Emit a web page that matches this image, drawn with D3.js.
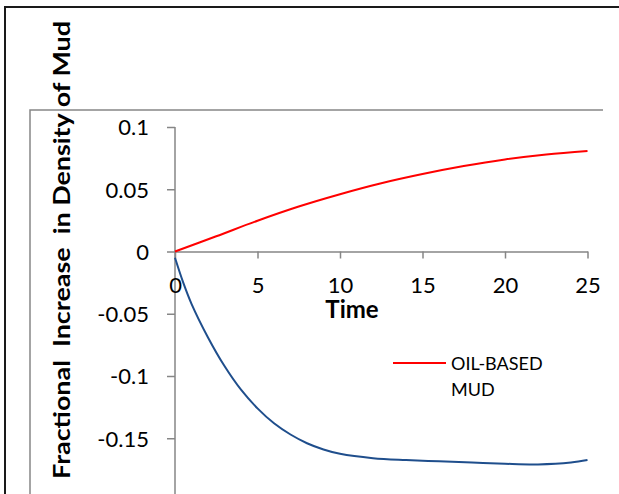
<!DOCTYPE html>
<html>
<head>
<meta charset="utf-8">
<script src="https://cdn.jsdelivr.net/npm/d3@7"></script>
<style>
  body { margin: 0; background: #fff; }
  svg { display: block; font-family: Lato, "Open Sans", sans-serif; }
</style>
</head>
<body>
<svg id="svg" width="619" height="494"></svg>
<script>
// values
const oilTime = [0, 2.5, 5, 7.5, 10, 12.5, 15, 17.5, 20, 22.5, 25];
const oilValue = [0, 0.0122, 0.0247, 0.0361, 0.046, 0.0548, 0.0622, 0.0686, 0.0739, 0.0779, 0.0808];

const waterTime = [0, 0.5, 1, 2, 3, 4, 5, 6, 7, 8, 9, 10, 12, 14, 16, 18, 20, 22, 24, 25];
const waterValue = [-0.005, -0.025, -0.042, -0.069, -0.092, -0.111, -0.126, -0.138, -0.147, -0.154,
  -0.159, -0.1625, -0.166, -0.1675, -0.1685, -0.1695, -0.1705, -0.171, -0.1695, -0.1675];

const xTicks = [0, 5, 10, 15, 20, 25];
const yTicks = [0.1, 0.05, 0, -0.05, -0.1, -0.15];
const yTickLabels = ["0.1", "0.05", "0", "-0.05", "-0.1", "-0.15"];
const legendLabel = ["OIL-BASED", "MUD"];

const svg = d3.select("#svg");
const axisGray = "#868686";

// outer frame and plot area frame (only top/left visible in the crop)
svg.append("path")
  .attr("d", "M5,494 V7 H619")
  .attr("fill", "none").attr("stroke", "#1a1a1a").attr("stroke-width", 2);
svg.append("path")
  .attr("d", "M30,494 V110 H603")
  .attr("fill", "none").attr("stroke", axisGray).attr("stroke-width", 1.5);

const x = d3.scaleLinear().domain([0, 25]).range([175, 587.5]);
const y = d3.scaleLinear().domain([-0.2, 0.1]).range([500.5, 127]);

// y axis
const yAxis = svg.append("g")
  .attr("transform", `translate(${x(0)},0)`)
  .call(d3.axisLeft(y).tickValues(yTicks).tickSize(8).tickSizeOuter(0)
    .tickFormat((d, i) => yTickLabels[i]));
yAxis.select(".domain").attr("stroke", axisGray).attr("stroke-width", 1.5)
  .attr("d", `M0,${y(0.1)}V494`);
yAxis.selectAll(".tick line").attr("stroke", axisGray).attr("stroke-width", 1.5);
yAxis.selectAll(".tick text")
  .attr("x", -26).attr("dy", "0.36em")
  .attr("font-family", "Lato, sans-serif").attr("font-size", 22).attr("fill", "#000");

// x axis on zero line
const xAxis = svg.append("g")
  .attr("transform", `translate(0,${y(0)})`)
  .call(d3.axisBottom(x).tickValues(xTicks).tickSize(7).tickSizeOuter(0));
xAxis.select(".domain").attr("stroke", axisGray).attr("stroke-width", 1.5);
xAxis.selectAll(".tick line").attr("stroke", axisGray).attr("stroke-width", 1.5);
xAxis.selectAll(".tick text")
  .attr("y", 41).attr("dy", 0)
  .attr("font-family", "Lato, sans-serif").attr("font-size", 22).attr("fill", "#000");

// axis titles
svg.append("text")
  .attr("x", 352).attr("y", 318)
  .attr("text-anchor", "middle")
  .attr("font-weight", "bold").attr("font-size", 24)
  .text("Time");

svg.append("text")
  .attr("transform", "translate(70,250) rotate(-90)")
  .attr("text-anchor", "middle")
  .attr("font-weight", "bold").attr("font-size", 23)
  .attr("textLength", 458).attr("lengthAdjust", "spacingAndGlyphs")
  .style("white-space", "pre")
  .text("Fractional  Increase  in Density of Mud");

// curves
const line = d3.line()
  .x(d => x(d[0]))
  .y(d => y(d[1]))
  .curve(d3.curveCatmullRom.alpha(0.5));

svg.append("path")
  .datum(waterTime.map((t, i) => [t, waterValue[i]]))
  .attr("fill", "none").attr("stroke", "#1f4e8c").attr("stroke-width", 2)
  .attr("d", line);

svg.append("path")
  .datum(oilTime.map((t, i) => [t, oilValue[i]]))
  .attr("fill", "none").attr("stroke", "#ff0000").attr("stroke-width", 2)
  .attr("d", line);

// legend
const legend = svg.append("g").attr("transform", "translate(393,363)");
legend.append("line")
  .attr("x1", 0).attr("x2", 53).attr("y1", 0).attr("y2", 0)
  .attr("stroke", "#ff0000").attr("stroke-width", 2);
legend.selectAll("text")
  .data(legendLabel)
  .enter().append("text")
  .attr("x", 58).attr("y", (d, i) => 7 + i * 26)
  .attr("font-size", 18).attr("fill", "#000")
  .text(d => d);
</script>
</body>
</html>
